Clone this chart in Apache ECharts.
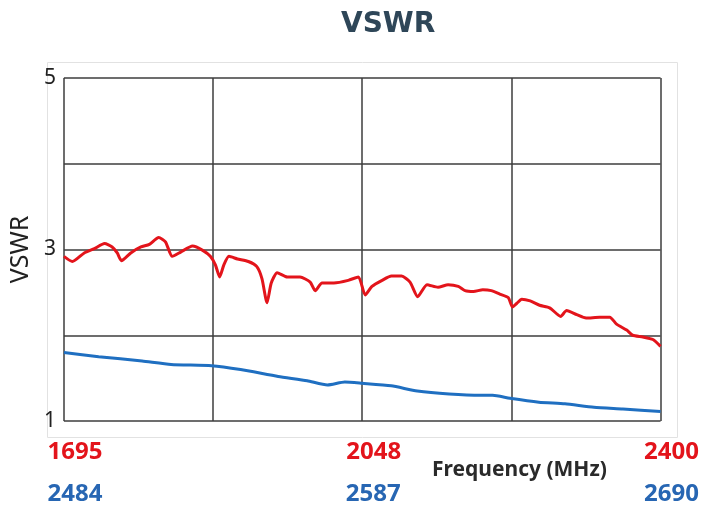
<!DOCTYPE html>
<html>
<head>
<meta charset="utf-8">
<script src="https://cdn.jsdelivr.net/npm/echarts@6/dist/echarts.min.js"></script>
<style>
  html, body { margin: 0; padding: 0; background: #fff; }
  #main { width: 702px; height: 510px; }
</style>
</head>
<body>
<div id="main"></div>
<script>
// band 1 (red): frequency MHz / VSWR
const redFreq = [1695, 1705, 1719, 1731, 1743, 1752, 1758, 1763, 1774, 1786, 1796, 1807, 1815, 1823, 1833, 1847, 1859, 1868, 1874, 1879, 1884, 1890, 1900, 1913, 1923, 1929, 1935, 1940, 1947, 1959, 1974, 1986, 1992, 2000, 2014, 2031, 2043, 2051, 2059, 2071, 2082, 2094, 2104, 2113, 2124, 2137, 2149, 2161, 2169, 2179, 2190, 2200, 2210, 2220, 2225, 2230, 2236, 2246, 2257, 2269, 2282, 2289, 2301, 2312, 2328, 2340, 2348, 2360, 2367, 2379, 2391, 2400]
const redVswr = [2.92, 2.86, 2.96, 3.01, 3.07, 3.03, 2.96, 2.87, 2.96, 3.03, 3.06, 3.14, 3.09, 2.92, 2.97, 3.04, 2.99, 2.92, 2.82, 2.68, 2.82, 2.92, 2.89, 2.86, 2.80, 2.66, 2.38, 2.61, 2.73, 2.68, 2.68, 2.62, 2.52, 2.61, 2.61, 2.64, 2.68, 2.47, 2.57, 2.64, 2.69, 2.69, 2.62, 2.45, 2.59, 2.56, 2.59, 2.57, 2.52, 2.51, 2.53, 2.52, 2.48, 2.44, 2.33, 2.37, 2.42, 2.40, 2.35, 2.32, 2.22, 2.29, 2.24, 2.20, 2.21, 2.21, 2.13, 2.06, 2.00, 1.98, 1.95, 1.87]

// band 2 (blue)
const blueFreq = [2484, 2496, 2511, 2521, 2535, 2545, 2558, 2568, 2575, 2581, 2587, 2597, 2606, 2617, 2628, 2632, 2638, 2648, 2657, 2667, 2677, 2690]
const blueVswr = [1.80, 1.75, 1.70, 1.66, 1.645, 1.60, 1.52, 1.47, 1.42, 1.455, 1.44, 1.41, 1.35, 1.315, 1.30, 1.30, 1.265, 1.22, 1.20, 1.16, 1.14, 1.11]

// tick labels
const redTicks = [1695, 2048, 2400]
const blueTicks = [2484, 2587, 2690]
const yTicks = [1, 3, 5]

const labelFont = 'Noto Sans'

var myChart = echarts.init(document.getElementById('main'))
var option = {
    backgroundColor: '#fff',
    animation: false,
    title: [
        {
            text: 'VSWR',
            left: 336,
            top: 6,
            textStyle: {
                color: '#2e4658',
                fontFamily: 'DejaVu Sans',
                fontWeight: 'bold',
                fontSize: 28
            }
        },
        {
            text: 'Frequency (MHz)',
            left: 427,
            top: 455,
            textStyle: {
                color: '#2a2a2a',
                fontFamily: labelFont,
                fontWeight: 'bold',
                fontSize: 21
            }
        }
    ],
    // faint outer frame of the plot
    graphic: [
        {
            type: 'rect',
            shape: { x: 47.5, y: 62.5, width: 630, height: 375 },
            style: { fill: 'none', stroke: '#e2e2e2', lineWidth: 1 },
            z: -1
        }
    ],
    grid: {
        left: 63,
        right: 41,
        top: 78,
        bottom: 89
    },
    xAxis: [
        {
            // red band
            type: 'value',
            min: 1695,
            max: 2400,
            position: 'bottom',
            axisLine: { show: false },
            axisTick: { show: false },
            splitLine: { show: false },
            axisLabel: {
                customValues: redTicks,
                formatter: v => String(v),
                margin: 19,
                color: '#e3141b',
                fontFamily: labelFont,
                fontWeight: 'bold',
                fontSize: 24,
                padding: [0, 0, 0, 22]
            }
        },
        {
            // blue band
            type: 'value',
            min: 2484,
            max: 2690,
            position: 'bottom',
            offset: 42,
            axisLine: { show: false },
            axisTick: { show: false },
            splitLine: { show: false },
            axisLabel: {
                customValues: blueTicks,
                formatter: v => String(v),
                margin: 19,
                color: '#2766b3',
                fontFamily: labelFont,
                fontWeight: 'bold',
                fontSize: 24,
                padding: [0, 0, 0, 22]
            }
        },
        {
            // vertical grid lines only
            type: 'value',
            min: 0,
            max: 4,
            interval: 1,
            position: 'bottom',
            axisLine: { show: false },
            axisTick: { show: false },
            axisLabel: { show: false },
            splitLine: {
                show: true,
                lineStyle: { color: '#3c3c3c', width: 1.5 }
            }
        }
    ],
    yAxis: {
        type: 'value',
        min: 1,
        max: 5,
        interval: 1,
        name: 'VSWR',
        nameLocation: 'middle',
        nameRotate: 90,
        nameGap: 14,
        nameTextStyle: {
            color: '#222',
            fontFamily: labelFont,
            fontSize: 25
        },
        axisLine: { show: false },
        axisTick: { show: false },
        axisLabel: {
            margin: 8,
            color: '#222',
            fontFamily: labelFont,
            fontSize: 21,
            formatter: function (v) {
                return yTicks.indexOf(v) >= 0 ? String(v) : ''
            }
        },
        splitLine: {
            show: true,
            lineStyle: { color: '#3c3c3c', width: 1.5 }
        }
    },
    series: [
        {
            name: '1695-2400',
            type: 'line',
            xAxisIndex: 0,
            symbol: 'none',
            smooth: 0.2,
            lineStyle: { color: '#e3141b', width: 3 },
            data: redFreq.map((f, i) => [f, redVswr[i]])
        },
        {
            name: '2484-2690',
            type: 'line',
            xAxisIndex: 1,
            symbol: 'none',
            smooth: 0.2,
            lineStyle: { color: '#1f6fc1', width: 3 },
            data: blueFreq.map((f, i) => [f, blueVswr[i]])
        }
    ]
}
myChart.setOption(option)
</script>
</body>
</html>
